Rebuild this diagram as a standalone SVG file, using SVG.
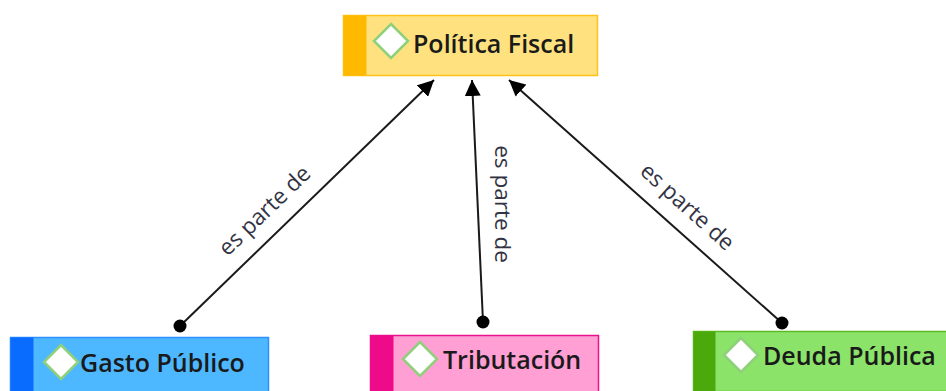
<svg xmlns="http://www.w3.org/2000/svg" width="946" height="391" viewBox="0 0 946 391">
<defs>
<style>
.lbl{font-family:"Open Sans","Noto Sans",sans-serif;font-weight:600;font-size:25px;fill:#1a1a1a}
.elbl{font-family:"Open Sans","Noto Sans",sans-serif;font-size:22.5px;fill:#333344}
.edge{stroke:#1a1a1a;stroke-width:2;fill:none}
.dia{fill:#ffffff;stroke:#8fd07a;stroke-width:2.5}
</style>
<marker id="arr" viewBox="0 0 10 10" refX="10" refY="5" markerWidth="8" markerHeight="8" orient="auto" markerUnits="strokeWidth">
<path d="M0,0 L10,5 L0,10 z" fill="#000"/>
</marker>
</defs>
<rect width="946" height="391" fill="#ffffff"/>
<g id="connectors">
<line class="edge" x1="180" y1="326" x2="434" y2="80" marker-end="url(#arr)"/>
<circle cx="180" cy="326" r="6.5" fill="#000"/>
<line class="edge" x1="483" y1="322" x2="472" y2="80" marker-end="url(#arr)"/>
<circle cx="483" cy="322" r="6.5" fill="#000"/>
<line class="edge" x1="782" y1="323" x2="509" y2="80" marker-end="url(#arr)"/>
<circle cx="782" cy="323" r="6.5" fill="#000"/>
<text class="elbl" text-anchor="middle" dominant-baseline="central" transform="translate(264,210) rotate(-44)">es parte de</text>
<text class="elbl" text-anchor="middle" dominant-baseline="central" transform="translate(503,204) rotate(90)">es parte de</text>
<text class="elbl" text-anchor="middle" dominant-baseline="central" transform="translate(688,206) rotate(42)">es parte de</text>
</g>
<g id="politica-fiscal">
<rect x="343.5" y="15.5" width="254" height="60" fill="#ffe27f" stroke="#ffc21a" stroke-width="1.5"/>
<rect x="343.5" y="15.5" width="23" height="60" fill="#ffb900"/>
<path class="dia" d="M391,24 L408,41 L391,58 L374,41 z"/>
<text class="lbl" x="413" y="53">Política Fiscal</text>
</g>
<g id="gasto-publico">
<rect x="10.5" y="337.5" width="258" height="60" fill="#4db8ff" stroke="#2f8fff" stroke-width="1.5"/>
<rect x="10.5" y="337.5" width="23" height="60" fill="#0a6cff"/>
<path class="dia" d="M61,345 L78,362 L61,379 L44,362 z"/>
<text class="lbl" x="80" y="372">Gasto Público</text>
</g>
<g id="tributacion">
<rect x="370.5" y="335.5" width="228" height="60" fill="#ff9fd4" stroke="#ea118c" stroke-width="1.5"/>
<rect x="370.5" y="335.5" width="23" height="60" fill="#ee0a88"/>
<path class="dia" d="M420,342 L437,359 L420,376 L403,359 z"/>
<text class="lbl" x="443" y="369">Tributación</text>
</g>
<g id="deuda-publica">
<rect x="693.5" y="331.5" width="262" height="60" fill="#8be36a" stroke="#5cbd22" stroke-width="1.5"/>
<rect x="693.5" y="331.5" width="22" height="60" fill="#4ca90c"/>
<path class="dia" d="M741,338 L758,355 L741,372 L724,355 z"/>
<text class="lbl" x="763" y="365">Deuda Pública</text>
</g>
</svg>
